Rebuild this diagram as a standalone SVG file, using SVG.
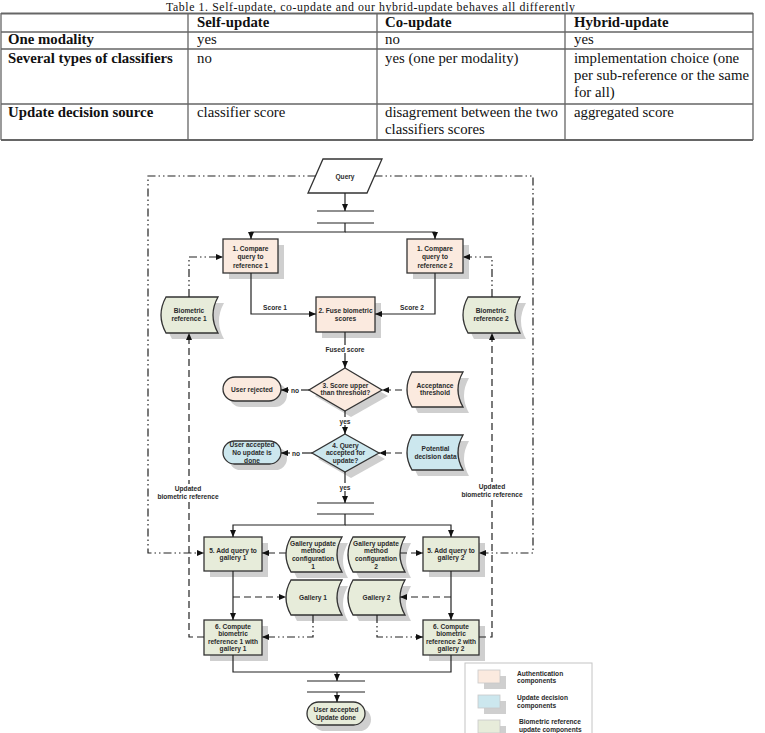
<svg xmlns="http://www.w3.org/2000/svg" width="765" height="733" viewBox="0 0 765 733">
<defs>
<style>
.tb{font-family:"Liberation Serif","Times New Roman",serif;font-size:14.8px;fill:#111}
.tb.b{font-weight:bold}
.cap{font-family:"Liberation Serif","Times New Roman",serif;font-size:11.8px;fill:#111}
.tl{stroke:#666;stroke-width:1.3;fill:none}
.to{stroke:#666;stroke-width:2.2;fill:none}
.t{font-family:"Liberation Sans",Arial,sans-serif;font-size:6.6px;font-weight:bold;fill:#2a2a2a;text-anchor:middle}
.lg{font-family:"Liberation Sans",Arial,sans-serif;font-size:6.6px;font-weight:bold;fill:#2a2a2a}
.n{stroke:#333;stroke-width:1.3}
.auth{fill:#FBEADF}
.dec{fill:#CCE7EE}
.bio{fill:#E7ECDA}
.wh{fill:#fff}
.sh{fill:#cfcfcf}
.c{fill:none;stroke:#222;stroke-width:1.2}
.ds{stroke-dasharray:7,4}
.dd{stroke-dasharray:8,3,1.5,3,1.5,3}
.bg{fill:#fff}
</style>
<marker id="a" markerUnits="userSpaceOnUse" markerWidth="7" markerHeight="6" refX="7" refY="3" orient="auto">
<path d="M0,0 L7,3 L0,6 z" fill="#111"/>
</marker>
</defs>
<rect width="765" height="733" fill="#fff"/>

<g id="table">
<text class="cap" x="166" y="10.6" textLength="409" lengthAdjust="spacing">Table 1. Self-update, co-update and our hybrid-update behaves all differently</text>
<path class="to" d="M1,13.5 H753 M1,140 H753"/>
<path class="tl" d="M1,32 H753 M1,49 H753 M1,104 H753 M1,13 V140 M188,13 V140 M377,13 V140 M565,13 V140 M753,13 V140"/>
<text class="tb b" x="197" y="27">Self-update</text>
<text class="tb b" x="385" y="27">Co-update</text>
<text class="tb b" x="574" y="27">Hybrid-update</text>
<text class="tb b" x="8" y="44">One modality</text>
<text class="tb" x="197" y="44">yes</text>
<text class="tb" x="385" y="44">no</text>
<text class="tb" x="574" y="44">yes</text>
<text class="tb b" x="8" y="63">Several types of classifiers</text>
<text class="tb" x="197" y="63">no</text>
<text class="tb" x="385" y="63">yes (one per modality)</text>
<text class="tb" x="574" y="63">implementation choice (one</text>
<text class="tb" x="574" y="80">per sub-reference or the same</text>
<text class="tb" x="574" y="97">for all)</text>
<text class="tb b" x="8" y="117">Update decision source</text>
<text class="tb" x="197" y="117">classifier score</text>
<text class="tb" x="385" y="117">disagrement between the two</text>
<text class="tb" x="385" y="134">classifiers scores</text>
<text class="tb" x="574" y="117">aggregated score</text>
</g>

<g id="query">
<polygon class="n wh" points="323,159 382,159 367,193 308,193"/>
<text class="t" x="345" y="179">Query</text>
</g>
<g id="fork1">
<path class="c" d="M317,211 H374 M317,223 H374"/>
</g>
<g id="compare1">
<rect class="sh" x="229" y="245" width="55" height="34"/>
<rect class="n auth" x="223" y="239" width="55" height="34"/>
<text class="t" x="250.5" y="250.5">1. Compare</text>
<text class="t" x="250.5" y="259">query to</text>
<text class="t" x="250.5" y="267.5">reference 1</text>
</g>
<g id="compare2">
<rect class="sh" x="413" y="245" width="56" height="34"/>
<rect class="n auth" x="407" y="239" width="56" height="34"/>
<text class="t" x="435" y="250.5">1. Compare</text>
<text class="t" x="435" y="259">query to</text>
<text class="t" x="435" y="267.5">reference 2</text>
</g>
<g id="bioref1">
<path class="sh" d="M172,303 H224 Q214,321 224,339 H172 Q162,321 172,303 Z"/>
<path class="n bio" d="M166,297 H218 Q208,315 218,333 H166 Q156,315 166,297 Z"/>
<text class="t" x="189" y="312.5">Biometric</text>
<text class="t" x="189" y="320.5">reference 1</text>
</g>
<g id="bioref2">
<path class="sh" d="M474,303 H526 Q516,321 526,339 H474 Q464,321 474,303 Z"/>
<path class="n bio" d="M468,297 H520 Q510,315 520,333 H468 Q458,315 468,297 Z"/>
<text class="t" x="491" y="312.5">Biometric</text>
<text class="t" x="491" y="320.5">reference 2</text>
</g>
<g id="fuse">
<rect class="sh" x="322" y="303" width="59" height="35"/>
<rect class="n auth" x="316" y="297" width="59" height="35"/>
<text class="t" x="345.5" y="312.5">2. Fuse biometric</text>
<text class="t" x="345.5" y="320.5">scores</text>
</g>
<g id="threshold-test">
<polygon class="sh" points="351,374 388,396 351,417 315,396"/>
<polygon class="n auth" points="345,368 382,390 345,411 309,390"/>
<text class="t" x="345.5" y="387.5">3. Score upper</text>
<text class="t" x="345.5" y="395">than threshold?</text>
</g>
<g id="rejected">
<rect class="sh" x="229" y="383" width="58" height="24" rx="12"/>
<rect class="n auth" x="223" y="377" width="58" height="24" rx="12"/>
<text class="t" x="252" y="391.5">User rejected</text>
</g>
<g id="acceptance">
<path class="sh" d="M418,378 H469 Q459,395.5 469,413 H418 Q408,395.5 418,378 Z"/>
<path class="n auth" d="M412,372 H463 Q453,389.5 463,407 H412 Q402,389.5 412,372 Z"/>
<text class="t" x="435" y="387.5">Acceptance</text>
<text class="t" x="435" y="395">threshold</text>
</g>
<g id="update-test">
<polygon class="sh" points="351,440 385,459 351,478 318,459"/>
<polygon class="n dec" points="345,434 379,453 345,472 312,453"/>
<text class="t" x="345.5" y="447.5">4. Query</text>
<text class="t" x="345.5" y="455">accepted for</text>
<text class="t" x="345.5" y="462.5">update?</text>
</g>
<g id="no-update">
<rect class="sh" x="229" y="447" width="58" height="23" rx="11.5"/>
<rect class="n dec" x="223" y="441" width="58" height="23" rx="11.5"/>
<text class="t" x="252" y="447">User accepted</text>
<text class="t" x="252" y="454.5">No update is</text>
<text class="t" x="252" y="462.5">done</text>
</g>
<g id="potential">
<path class="sh" d="M418,441 H469 Q459,458.5 469,476 H418 Q408,458.5 418,441 Z"/>
<path class="n dec" d="M412,435 H463 Q453,452.5 463,470 H412 Q402,452.5 412,435 Z"/>
<text class="t" x="435.5" y="450.5">Potential</text>
<text class="t" x="435.5" y="458.5">decision data</text>
</g>
<g id="fork2">
<path class="c" d="M317,503 H374 M317,514 H374"/>
</g>
<g id="add1">
<rect class="sh" x="210" y="543" width="58" height="34"/>
<rect class="n bio" x="204" y="537" width="58" height="34"/>
<text class="t" x="233" y="552.5">5. Add query to</text>
<text class="t" x="233" y="560">gallery 1</text>
</g>
<g id="add2">
<rect class="sh" x="429" y="543" width="56" height="34"/>
<rect class="n bio" x="423" y="537" width="56" height="34"/>
<text class="t" x="451" y="552.5">5. Add query to</text>
<text class="t" x="451" y="560">gallery 2</text>
</g>
<g id="config1">
<path class="sh" d="M297,543 H348 Q338,560.5 348,578 H297 Q287,560.5 297,543 Z"/>
<path class="n bio" d="M291,537 H342 Q332,554.5 342,572 H291 Q281,554.5 291,537 Z"/>
<text class="t" x="313" y="545.5">Gallery update</text>
<text class="t" x="313" y="553">method</text>
<text class="t" x="313" y="560.5">configuration</text>
<text class="t" x="313" y="568.5">1</text>
</g>
<g id="config2">
<path class="sh" d="M359,543 H411 Q401,560.5 411,578 H359 Q349,560.5 359,543 Z"/>
<path class="n bio" d="M353,537 H405 Q395,554.5 405,572 H353 Q343,554.5 353,537 Z"/>
<text class="t" x="376" y="545.5">Gallery update</text>
<text class="t" x="376" y="553">method</text>
<text class="t" x="376" y="560.5">configuration</text>
<text class="t" x="376" y="568.5">2</text>
</g>
<g id="gallery1">
<path class="sh" d="M297,586 H348 Q338,603.5 348,621 H297 Q287,603.5 297,586 Z"/>
<path class="n bio" d="M291,580 H342 Q332,597.5 342,615 H291 Q281,597.5 291,580 Z"/>
<text class="t" x="313" y="599.5">Gallery 1</text>
</g>
<g id="gallery2">
<path class="sh" d="M359,586 H411 Q401,603.5 411,621 H359 Q349,603.5 359,586 Z"/>
<path class="n bio" d="M353,580 H405 Q395,597.5 405,615 H353 Q343,597.5 353,580 Z"/>
<text class="t" x="376.5" y="599.5">Gallery 2</text>
</g>
<g id="compute1">
<rect class="sh" x="210" y="626" width="58" height="35"/>
<rect class="n bio" x="204" y="620" width="58" height="35"/>
<text class="t" x="233" y="628.5">6. Compute</text>
<text class="t" x="233" y="636">biometric</text>
<text class="t" x="233" y="643.5">reference 1 with</text>
<text class="t" x="233" y="651">gallery 1</text>
</g>
<g id="compute2">
<rect class="sh" x="429" y="626" width="56" height="35"/>
<rect class="n bio" x="423" y="620" width="56" height="35"/>
<text class="t" x="451" y="628.5">6. Compute</text>
<text class="t" x="451" y="636">biometric</text>
<text class="t" x="451" y="643.5">reference 2 with</text>
<text class="t" x="451" y="651">gallery 2</text>
</g>
<g id="join">
<path class="c" d="M307,681 H365 M307,692 H365"/>
</g>
<g id="done">
<rect class="sh" x="313" y="708" width="58" height="23" rx="11.5"/>
<rect class="n bio" x="307" y="702" width="58" height="23" rx="11.5"/>
<text class="t" x="336" y="711.5">User accepted</text>
<text class="t" x="336" y="719.5">Update done</text>
</g>

<g id="connectors">
<path class="c dd" d="M315.5,176 H148 V553 H204" marker-end="url(#a)"/>
<path class="c dd" d="M374.5,176 H533 V553 H479" marker-end="url(#a)"/>
<path class="c" d="M345,193 V211" marker-end="url(#a)"/>
<path class="c" d="M345,223 V232 H251 V239" marker-end="url(#a)"/>
<path class="c" d="M345,232 H435 V239" marker-end="url(#a)"/>
<path class="c dd" d="M189,297 V257 H223" marker-end="url(#a)"/>
<path class="c dd" d="M492,297 V257 H463" marker-end="url(#a)"/>
<path class="c" d="M251,273 V314 H316" marker-end="url(#a)"/>
<path class="c" d="M435,273 V314 H375" marker-end="url(#a)"/>
<text class="t" x="275" y="310">Score 1</text>
<text class="t" x="412" y="310">Score 2</text>
<path class="c" d="M345,332 V368" marker-end="url(#a)"/>
<rect class="bg" x="324" y="345" width="42" height="8"/>
<text class="t" x="345" y="351.5">Fused score</text>
<path class="c" d="M309,390 H281" marker-end="url(#a)"/>
<rect class="bg" x="289" y="386" width="12" height="8"/>
<text class="t" x="295" y="392.5">no</text>
<path class="c ds" d="M402,390 H382" marker-end="url(#a)"/>
<path class="c" d="M345,411 V434" marker-end="url(#a)"/>
<rect class="bg" x="338" y="417" width="14" height="8"/>
<text class="t" x="345" y="423.5">yes</text>
<path class="c" d="M312,453 H281" marker-end="url(#a)"/>
<rect class="bg" x="290" y="449" width="12" height="8"/>
<text class="t" x="296" y="455.5">no</text>
<path class="c ds" d="M402,453 H379" marker-end="url(#a)"/>
<path class="c" d="M345,472 V503" marker-end="url(#a)"/>
<rect class="bg" x="338" y="483" width="14" height="8"/>
<text class="t" x="345" y="489.5">yes</text>
<path class="c" d="M345,514 V525 H233 V537" marker-end="url(#a)"/>
<path class="c" d="M345,525 H451 V537" marker-end="url(#a)"/>
<path class="c ds" d="M286,553 H262" marker-end="url(#a)"/>
<path class="c ds" d="M400,553 H423" marker-end="url(#a)"/>
<path class="c" d="M233,571 V620" marker-end="url(#a)"/>
<path class="c" d="M451,571 V620" marker-end="url(#a)"/>
<path class="c ds" d="M233,597 H286" marker-end="url(#a)"/>
<path class="c ds" d="M451,597 H400" marker-end="url(#a)"/>
<path class="c dd" d="M313,615 V637 H262" marker-end="url(#a)"/>
<path class="c dd" d="M377,615 V637 H423" marker-end="url(#a)"/>
<path class="c ds" d="M204,637 H189 V333" marker-end="url(#a)"/>
<path class="c ds" d="M479,637 H492 V333" marker-end="url(#a)"/>
<rect class="bg" x="160" y="484" width="58" height="17"/>
<text class="t" x="188" y="490.5">Updated</text>
<text class="t" x="188" y="498.5">biometric reference</text>
<rect class="bg" x="463" y="482" width="58" height="17"/>
<text class="t" x="492" y="489">Updated</text>
<text class="t" x="492" y="497">biometric reference</text>
<path class="c" d="M233,655 V672 H451 V655"/>
<path class="c" d="M337,672 V681" marker-end="url(#a)"/>
<path class="c" d="M337,692 V702" marker-end="url(#a)"/>
</g>

<g id="legend">
<rect x="465" y="663" width="127" height="80" fill="#fff" stroke="#c4c4c4" stroke-width="1"/>
<rect class="sh" x="484" y="676" width="22" height="13"/>
<rect x="478" y="670" width="22" height="13" fill="#FBEADF" stroke="#c8c8c8" stroke-width="0.8"/>
<rect class="sh" x="484" y="701" width="22" height="13"/>
<rect x="478" y="695" width="22" height="13" fill="#CCE7EE" stroke="#c8c8c8" stroke-width="0.8"/>
<rect class="sh" x="484" y="726" width="22" height="13"/>
<rect x="478" y="720" width="22" height="13" fill="#E7ECDA" stroke="#c8c8c8" stroke-width="0.8"/>
<text class="lg" x="517" y="675.5">Authentication</text>
<text class="lg" x="517" y="683">components</text>
<text class="lg" x="517" y="700">Update decision</text>
<text class="lg" x="517" y="708">components</text>
<text class="lg" x="519" y="724">Biometric reference</text>
<text class="lg" x="519" y="731.5">update components</text>
</g>
</svg>
